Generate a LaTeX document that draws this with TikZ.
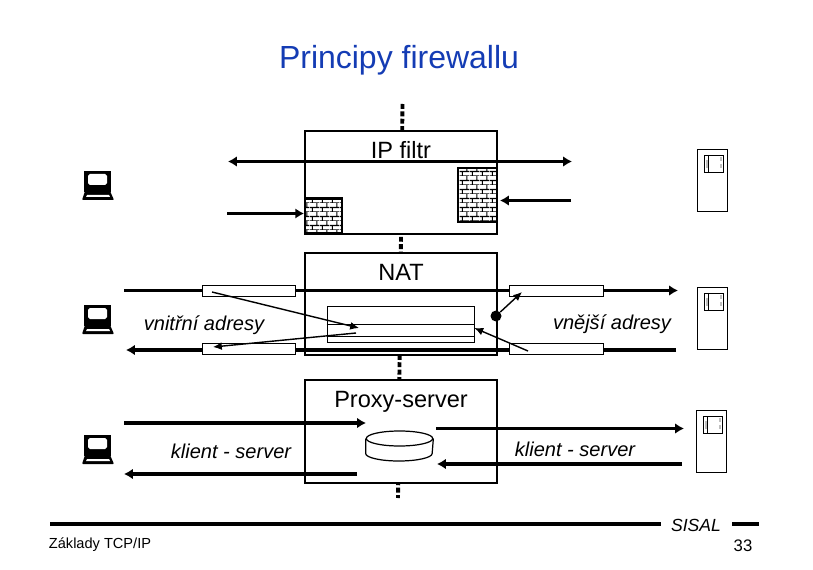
\documentclass[tikz,border=0pt]{standalone}
\usepackage{fontspec}
\setmainfont{Liberation Sans}
\usetikzlibrary{arrows.meta, patterns, shapes.geometric}
\definecolor{titleblue}{RGB}{20, 60, 180}
\pgfdeclarepatternformonly{tinybricks}{\pgfpointorigin}{\pgfqpoint{5.7pt}{5.1pt}}{\pgfqpoint{5.7pt}{5.1pt}}{
    \pgfsetlinewidth{0.65pt}
    \pgfpathmoveto{\pgfqpoint{0pt}{0pt}}\pgfpathlineto{\pgfqpoint{5.7pt}{0pt}}
    \pgfpathmoveto{\pgfqpoint{0pt}{2.55pt}}\pgfpathlineto{\pgfqpoint{5.7pt}{2.55pt}}
    \pgfpathmoveto{\pgfqpoint{1.4pt}{0pt}}\pgfpathlineto{\pgfqpoint{1.4pt}{2.55pt}}
    \pgfpathmoveto{\pgfqpoint{4.25pt}{2.55pt}}\pgfpathlineto{\pgfqpoint{4.25pt}{5.1pt}}
    \pgfusepath{stroke}
}
\tikzset{
    filterbox/.style={draw, fill=white, line width=1.1pt, minimum width=3.84cm, minimum height=2.05cm, inner sep=0pt},
    wall/.style={draw, line width=1.3pt, pattern=tinybricks, inner sep=0pt},
    slot/.style={draw, line width=0.5pt, fill=white, minimum width=1.87cm, minimum height=0.23cm, inner sep=0pt},
    label/.style={font=\fontsize{13.4pt}{15pt}\selectfont},
    hint/.style={font=\fontsize{11.4pt}{13pt}\selectfont\itshape},
    heavy/.style={line width=2pt, -{Latex[length=5pt,width=6pt]}},
    heavyboth/.style={line width=2pt, {Latex[length=5pt,width=6pt]}-{Latex[length=5pt,width=6pt]}},
    thin arrow/.style={line width=0.8pt, -{Latex[length=5pt,width=4.5pt]}},
    dots/.style={line width=2.2pt, dash pattern=on 2.8pt off 1.4pt},
    laptop/.pic={
        \fill[black] (-14,-15) rectangle (13,6);
        \fill[white, rounded corners=1pt] (-10,-12) rectangle (9,-1);
        \fill[black, rounded corners=0.5pt] (-13,5) -- (12,5) -- (16,14) -- (-16,14) -- cycle;
        \fill[white] (-11,9) -- (11,9) -- (12,11) -- (-12,11) -- cycle;
    },
    server/.pic={
        \draw[line width=0.55pt, fill=white] (0,0) rectangle (30,62);
        \fill[black!25] (8.5,11) rectangle (11,19);
        \fill[black!25] (23,8) rectangle (25,12);
        \fill[black!25] (23,15) rectangle (25,19);
        \draw[line width=0.55pt] (7,6) rectangle (26,23);
        \draw[line width=0.55pt] (11,6) -- (11,23);
    }
}
\begin{document}
\begin{tikzpicture}[x=0.02cm, y=-0.02cm]
    \useasboundingbox (0,0) rectangle (813,570);

    % Title
    \node[titleblue, font=\fontsize{18.2pt}{21pt}\selectfont] (title) at (399,60) {Principy firewallu};

    % Vertical dotted line
    \coordinate (topdots) at (402.5,104);
    \coordinate (botdots) at (398,498);
    \draw[dots] (topdots) -- (botdots);

    % Boxes
    \node[filterbox] (filter) at (401,182.5) {};
    \node[filterbox] (nat) at (401,304) {};
    \node[filterbox] (proxy) at (401,431.5) {};
    \node[label] (filterlabel) at (401,150) {IP filtr};
    \node[label] (natlabel) at (401,272) {NAT};
    \node[label] (proxylabel) at (401,402) {Proxy-server};

    % IP filtr
    \node[wall, anchor=south west, minimum width=0.74cm, minimum height=0.7cm] (wallleft) at (filter.south west) {};
    \node[wall, minimum width=0.78cm, minimum height=1.08cm] (wallright) at (477.5,195) {};
    \coordinate (passleft) at (228,161.5);
    \coordinate (passright) at (572,161.5);
    \coordinate (inleft) at (227,213.5);
    \coordinate (inright) at (571,200.5);
    \coordinate (inrighttip) at (500,200.5);
    \draw[heavyboth] (passleft) -- (passright);
    \draw[heavy] (inleft) -- (wallleft.west |- inleft);
    \draw[heavy] (inright) -- (inrighttip);

    % NAT
    \coordinate (natlefttop) at (124,290.5);
    \coordinate (natrighttop) at (678,290.5);
    \coordinate (natleftbot) at (126,350);
    \coordinate (natrightbot) at (676,350);
    \draw[heavy] (natlefttop) -- (natrighttop);
    \draw[heavy] (natrightbot) -- (natleftbot);
    \node[slot] (slotlt) at (249,291) {};
    \node[slot] (slotlb) at (249,349) {};
    \node[slot] (slotrt) at (556.5,291) {};
    \node[slot] (slotrb) at (556.5,349) {};
    \node[draw, line width=0.5pt, minimum width=2.94cm, minimum height=0.72cm, inner sep=0pt] (table) at (400.5,324) {};
    \draw[line width=0.5pt] (table.west |- 0,324) -- (table.east |- 0,324);
    \draw[line width=0.5pt] (table.west |- 0,336) -- (table.east |- 0,336);
    \node[circle, fill=black, minimum size=0.22cm, inner sep=0pt] (dot) at (496,316) {};
    \coordinate (lookin) at (212,292);
    \coordinate (lookintip) at (359,328);
    \coordinate (backout) at (356,333);
    \coordinate (backouttip) at (213,347);
    \coordinate (replyin) at (528,351);
    \coordinate (sendout) at (522,292);
    \draw[thin arrow] (lookin) -- (lookintip);
    \draw[thin arrow] (backout) -- (backouttip);
    \draw[thin arrow] (replyin) -- (table.east |- 0,328);
    \draw[thin arrow] (dot) -- (sendout);
    \node[hint] (inner) at (204,325) {vnitřní adresy};
    \node[hint] (outer) at (612,324) {vnější adresy};

    % Proxy
    \node[ellipse, draw, fill=white, line width=0.7pt, minimum width=1.33cm, minimum height=0.3cm, inner sep=0pt] (disk) at (399.5,438.5) {};
    \draw[line width=0.7pt] (disk.west) -- ++(0,15) arc[start angle=180, end angle=0, x radius=33.25, y radius=7.5] -- (disk.east);
    \coordinate (clientout) at (124,423);
    \coordinate (clientouttip) at (366,423);
    \coordinate (clientback) at (357,474);
    \coordinate (clientbacktip) at (124,474);
    \coordinate (serverout) at (436,428.5);
    \coordinate (serverouttip) at (684,428.5);
    \coordinate (serverback) at (682,464);
    \coordinate (serverbacktip) at (437,464);
    \draw[heavy] (clientout) -- (clientouttip);
    \draw[heavy] (clientback) -- (clientbacktip);
    \draw[heavy] (serverout) -- (serverouttip);
    \draw[heavy] (serverback) -- (serverbacktip);
    \node[hint] (clientleft) at (231,451) {klient - server};
    \node[hint] (clientright) at (575,449) {klient - server};

    % Stations
    \pic at (98,186) {laptop};
    \pic at (98,320) {laptop};
    \pic at (98,450) {laptop};
    \pic at (697,149) {server};
    \pic at (697,287) {server};
    \pic at (696,410) {server};

    % Footer
    \coordinate (footleft) at (50,524);
    \coordinate (footmid) at (661,524);
    \coordinate (footnext) at (732,524);
    \coordinate (footright) at (759,524);
    \draw[line width=1.9pt] (footleft) -- (footmid);
    \draw[line width=1.9pt] (footnext) -- (footright);
    \node[font=\fontsize{10pt}{12pt}\selectfont\itshape] (sisal) at (696,525) {SISAL};
    \node[font=\fontsize{8.3pt}{10pt}\selectfont] (course) at (100,545) {Základy TCP/IP};
    \node[font=\fontsize{9.5pt}{11pt}\selectfont] (page) at (743,546) {33};
\end{tikzpicture}
\end{document}
